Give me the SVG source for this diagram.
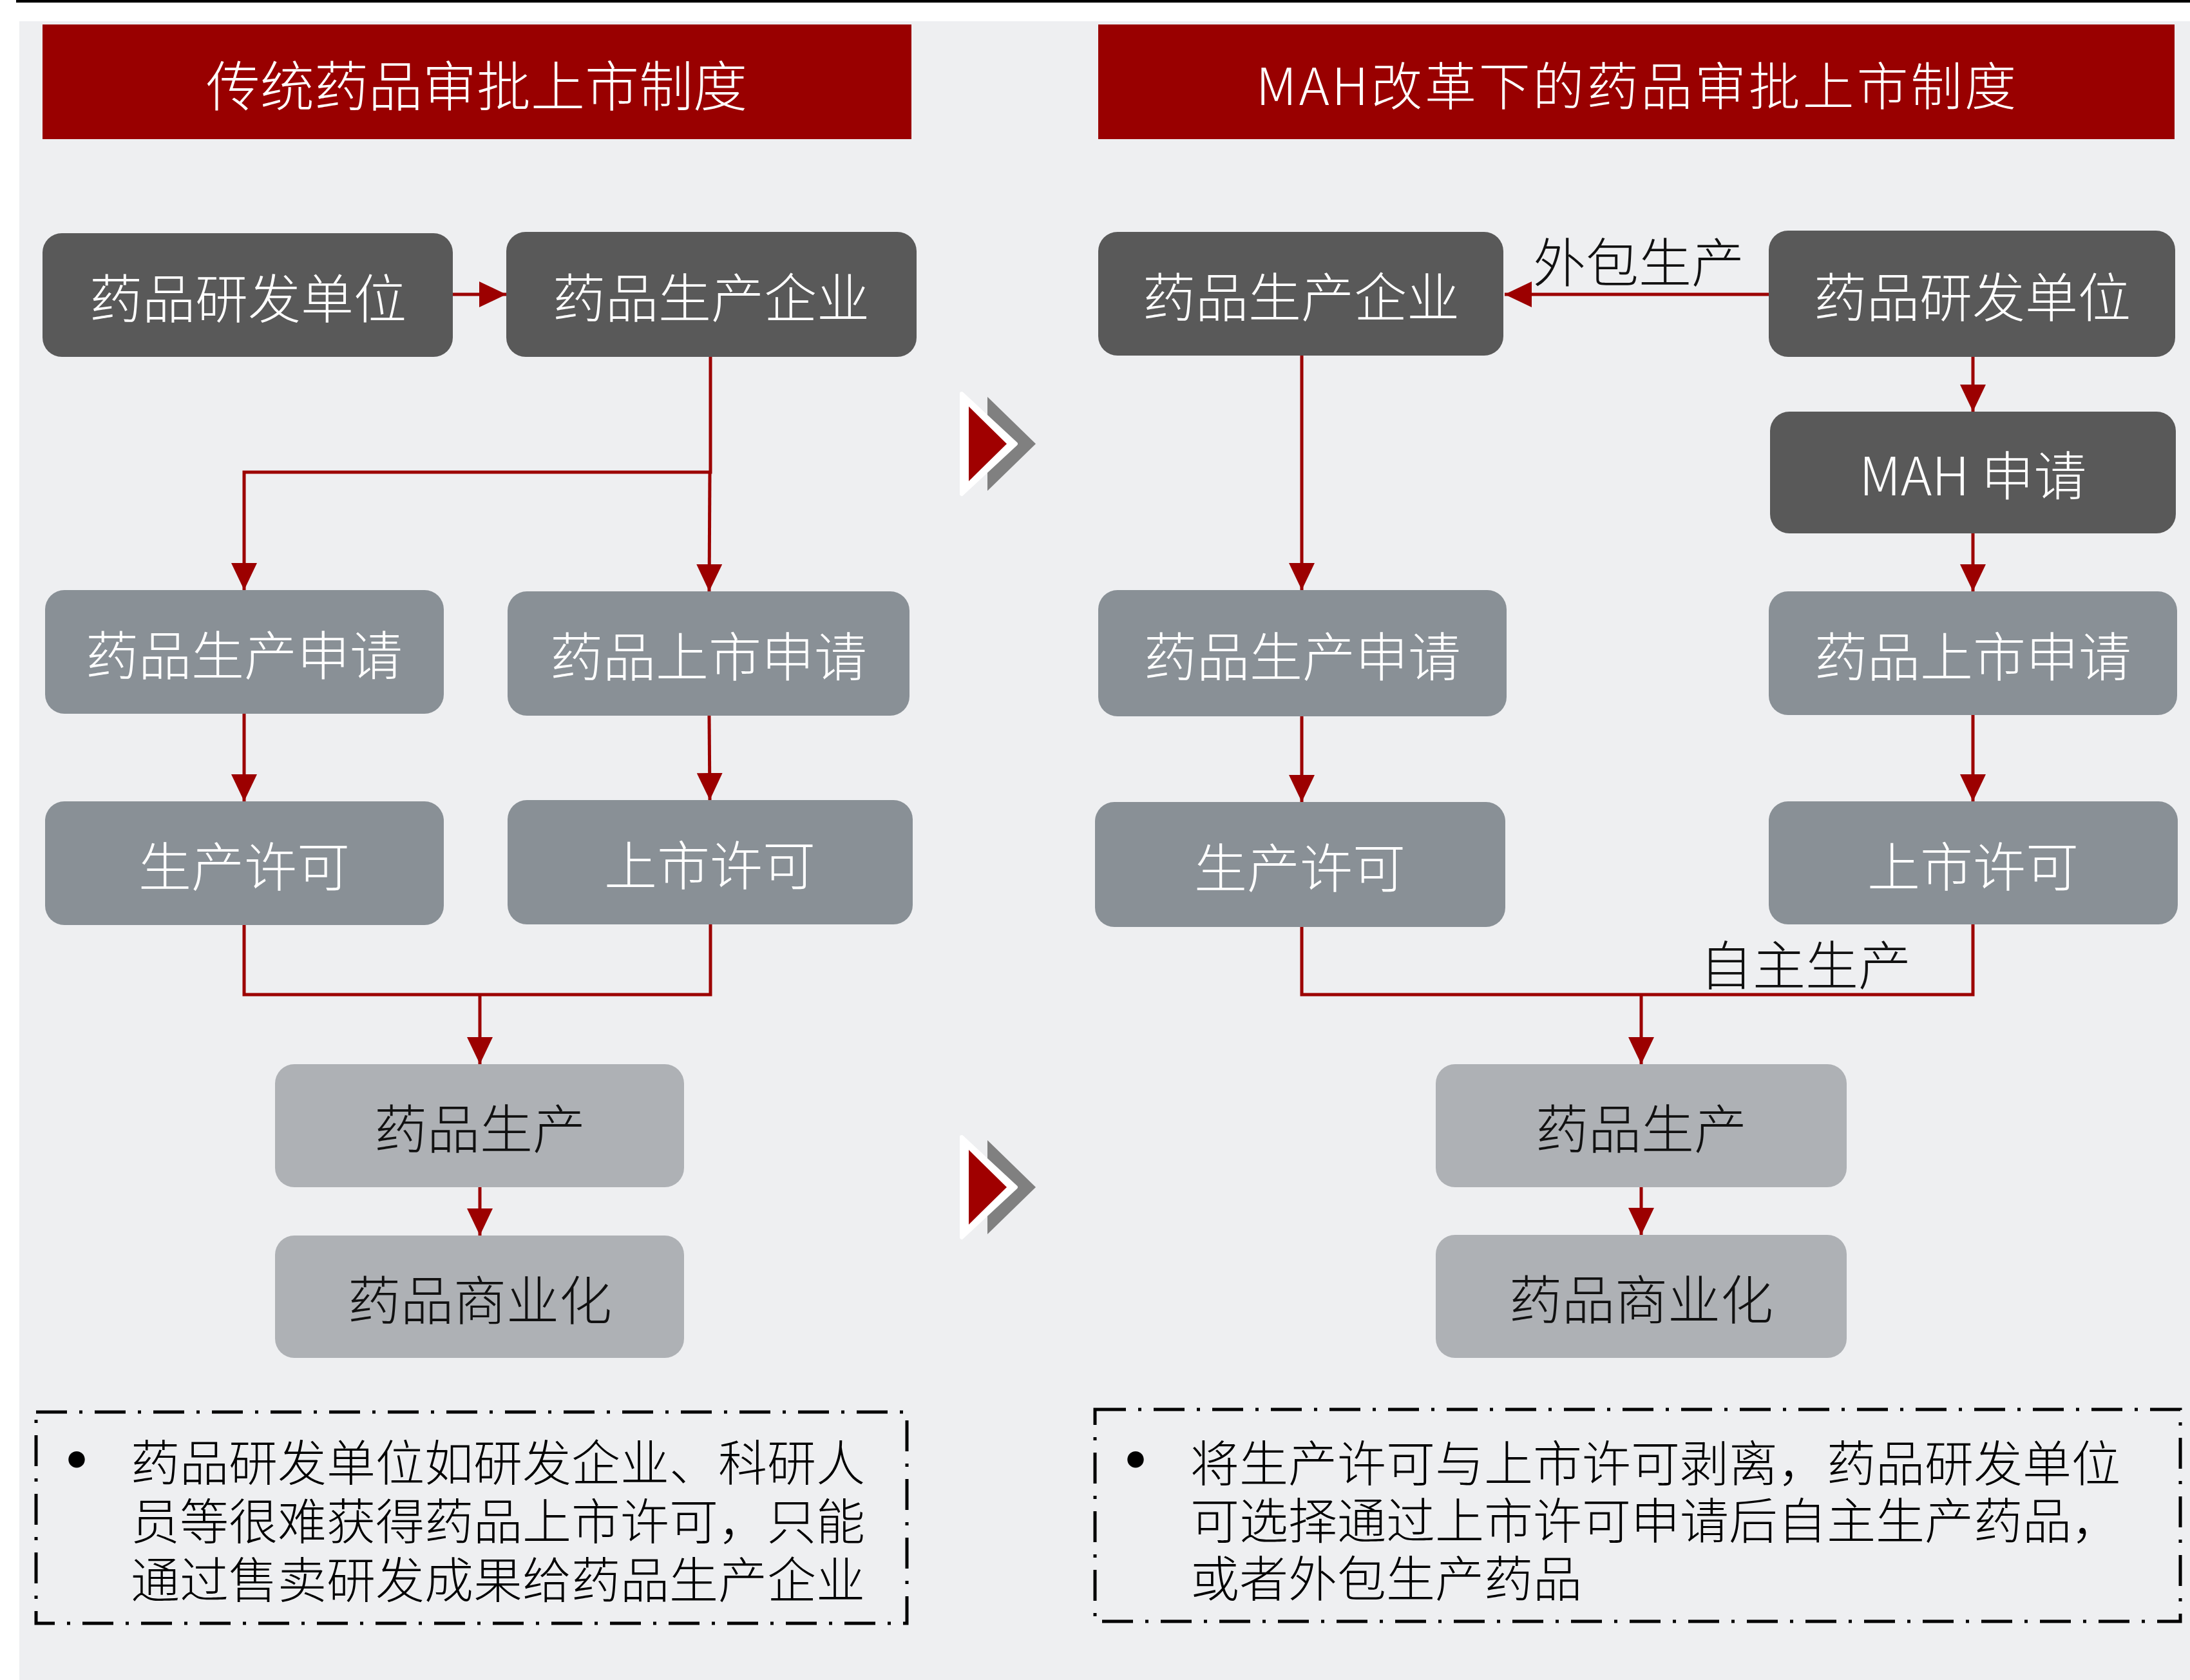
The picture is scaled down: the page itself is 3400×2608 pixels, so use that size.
<svg xmlns="http://www.w3.org/2000/svg" width="3400" height="2608" viewBox="0 0 3400 2608">
<style>
text{font-family:"Noto Sans CJK SC","Noto Sans",sans-serif;font-weight:300;}
.title{fill:#ffffff;font-size:84px;text-anchor:middle;dominant-baseline:central;}
.banner{fill:#990000;}
.dark{fill:#595959;}
.mid{fill:#899096;}
.light{fill:#aeb1b5;}
.wt{fill:#ffffff;font-size:82px;text-anchor:middle;dominant-baseline:central;}
.bt{fill:#111111;font-size:82px;text-anchor:middle;dominant-baseline:central;}
.lbl{fill:#111111;font-size:82px;text-anchor:middle;dominant-baseline:central;}
.conn{fill:none;stroke:#9c0000;stroke-width:5;}
.note{fill:none;stroke:#000000;stroke-width:5;stroke-dasharray:48 19 5 19;}
.body{fill:#000000;font-size:76px;dominant-baseline:central;}
.bullet{fill:#000000;font-size:120px;font-weight:400;text-anchor:middle;dominant-baseline:central;}
</style>
<defs>
<marker id="ah" markerUnits="userSpaceOnUse" markerWidth="42" markerHeight="40" viewBox="0 0 42 40" refX="42" refY="20" orient="auto">
<path d="M0,0 L42,20 L0,40 Z" fill="#9c0000"/>
</marker>
</defs>
<rect x="0" y="0" width="3400" height="2608" fill="#ffffff"/>
<rect x="30" y="33" width="3370" height="2575" fill="#eeeff1"/>
<rect x="25" y="0" width="3375" height="4" fill="#000000"/>

<g id="title-left">
<rect class="banner" x="66" y="38" width="1349" height="178"/>
<text class="title" x="740" y="128">传统药品审批上市制度</text>
</g>
<g id="title-right">
<rect class="banner" x="1705" y="38" width="1671" height="178"/>
<text class="title" x="2540" y="128" style="font-size:80px" textLength="1180" lengthAdjust="spacing">MAH改革下的药品审批上市制度</text>
</g>

<g id="connectors">
<line class="conn" x1="703" y1="457" x2="786" y2="457" marker-end="url(#ah)"/>
<polyline class="conn" points="1103,554 1103,733 379,733 379,916" marker-end="url(#ah)"/>
<line class="conn" x1="1102" y1="733" x2="1101" y2="918" marker-end="url(#ah)"/>
<line class="conn" x1="379" y1="1108" x2="379" y2="1244" marker-end="url(#ah)"/>
<line class="conn" x1="1101" y1="1111" x2="1102" y2="1242" marker-end="url(#ah)"/>
<polyline class="conn" points="379,1436 379,1544 1103,1544 1103,1435"/>
<line class="conn" x1="745" y1="1544" x2="745" y2="1652" marker-end="url(#ah)"/>
<line class="conn" x1="745" y1="1843" x2="745" y2="1918" marker-end="url(#ah)"/>

<line class="conn" x1="2746" y1="457" x2="2336" y2="457" marker-end="url(#ah)"/>
<line class="conn" x1="2021" y1="552" x2="2021" y2="916" marker-end="url(#ah)"/>
<line class="conn" x1="3063" y1="554" x2="3063" y2="639" marker-end="url(#ah)"/>
<line class="conn" x1="3063" y1="828" x2="3063" y2="918" marker-end="url(#ah)"/>
<line class="conn" x1="2021" y1="1112" x2="2021" y2="1245" marker-end="url(#ah)"/>
<line class="conn" x1="3063" y1="1110" x2="3063" y2="1244" marker-end="url(#ah)"/>
<polyline class="conn" points="2021,1439 2021,1544 3063,1544 3063,1435"/>
<line class="conn" x1="2548" y1="1544" x2="2548" y2="1652" marker-end="url(#ah)"/>
<line class="conn" x1="2548" y1="1843" x2="2548" y2="1917" marker-end="url(#ah)"/>
<text class="lbl" x="2544" y="402">外包生产</text>
<text class="lbl" x="2803" y="1493">自主生产</text>
</g>

<g id="l-rd">
<rect class="dark" x="66" y="362" width="637" height="192" rx="30"/>
<text class="wt" x="385" y="458">药品研发单位</text>
</g>
<g id="l-mfr">
<rect class="dark" x="786" y="360" width="637" height="194" rx="30"/>
<text class="wt" x="1104" y="457">药品生产企业</text>
</g>
<g id="l-prodapp">
<rect class="mid" x="70" y="916" width="619" height="192" rx="30"/>
<text class="wt" x="379" y="1012">药品生产申请</text>
</g>
<g id="l-mktapp">
<rect class="mid" x="788" y="918" width="624" height="193" rx="30"/>
<text class="wt" x="1100" y="1014">药品上市申请</text>
</g>
<g id="l-prodlic">
<rect class="mid" x="70" y="1244" width="619" height="192" rx="30"/>
<text class="wt" x="379" y="1340">生产许可</text>
</g>
<g id="l-mktlic">
<rect class="mid" x="788" y="1242" width="629" height="193" rx="30"/>
<text class="wt" x="1102" y="1338">上市许可</text>
</g>
<g id="l-prod">
<rect class="light" x="427" y="1652" width="635" height="191" rx="30"/>
<text class="bt" x="745" y="1747">药品生产</text>
</g>
<g id="l-comm">
<rect class="light" x="427" y="1918" width="635" height="190" rx="30"/>
<text class="bt" x="745" y="2013">药品商业化</text>
</g>

<g id="r-mfr">
<rect class="dark" x="1705" y="360" width="629" height="192" rx="30"/>
<text class="wt" x="2020" y="456">药品生产企业</text>
</g>
<g id="r-rd">
<rect class="dark" x="2746" y="358" width="631" height="196" rx="30"/>
<text class="wt" x="3062" y="456">药品研发单位</text>
</g>
<g id="r-mah">
<rect class="dark" x="2748" y="639" width="630" height="189" rx="30"/>
<text class="wt" x="3063" y="733">MAH 申请</text>
</g>
<g id="r-prodapp">
<rect class="mid" x="1705" y="916" width="634" height="196" rx="30"/>
<text class="wt" x="2022" y="1014">药品生产申请</text>
</g>
<g id="r-mktapp">
<rect class="mid" x="2746" y="918" width="634" height="192" rx="30"/>
<text class="wt" x="3063" y="1014">药品上市申请</text>
</g>
<g id="r-prodlic">
<rect class="mid" x="1700" y="1245" width="637" height="194" rx="30"/>
<text class="wt" x="2018" y="1342">生产许可</text>
</g>
<g id="r-mktlic">
<rect class="mid" x="2746" y="1244" width="635" height="191" rx="30"/>
<text class="wt" x="3063" y="1340">上市许可</text>
</g>
<g id="r-prod">
<rect class="light" x="2229" y="1652" width="638" height="191" rx="30"/>
<text class="bt" x="2548" y="1747">药品生产</text>
</g>
<g id="r-comm">
<rect class="light" x="2229" y="1917" width="638" height="191" rx="30"/>
<text class="bt" x="2548" y="2012">药品商业化</text>
</g>

<g id="chevron-1">
<polygon points="1533,616 1608,689 1533,762" fill="#808080"/>
<polygon points="1493,611 1577,689 1493,767" fill="#ffffff" stroke="#ffffff" stroke-width="6" stroke-linejoin="round"/>
<polygon points="1504,631 1563,689 1504,747" fill="#a00000"/>
</g>
<g id="chevron-2">
<polygon points="1533,1770 1608,1843 1533,1916" fill="#808080"/>
<polygon points="1493,1765 1577,1843 1493,1921" fill="#ffffff" stroke="#ffffff" stroke-width="6" stroke-linejoin="round"/>
<polygon points="1504,1785 1563,1843 1504,1901" fill="#a00000"/>
</g>

<g id="note-left">
<rect class="note" x="56" y="2192" width="1352" height="328"/>
<text class="bullet" x="119" y="2260">•</text>
<text class="body" x="203" y="2266">药品研发单位如研发企业、科研人</text>
<text class="body" x="203" y="2357">员等很难获得药品上市许可，只能</text>
<text class="body" x="203" y="2448">通过售卖研发成果给药品生产企业</text>
</g>
<g id="note-right">
<rect class="note" x="1700" y="2188" width="1685" height="329"/>
<text class="bullet" x="1763" y="2260">•</text>
<text class="body" x="1848" y="2267">将生产许可与上市许可剥离，药品研发单位</text>
<text class="body" x="1848" y="2356">可选择通过上市许可申请后自主生产药品，</text>
<text class="body" x="1848" y="2446">或者外包生产药品</text>
</g>
</svg>
